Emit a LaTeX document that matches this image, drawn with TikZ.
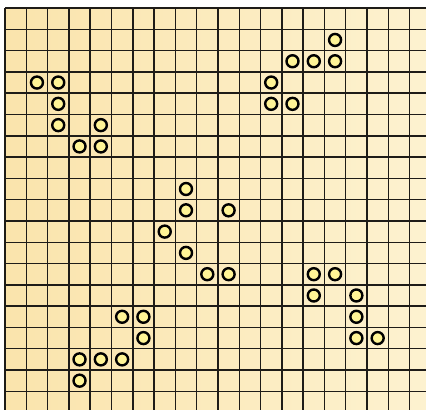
\documentclass[tikz,border=0pt]{standalone}
\usepackage{xcolor}
\usepackage{tikz}

\definecolor{paperleft}{RGB}{250,228,172}
\definecolor{paperright}{RGB}{253,242,208}
\definecolor{gridline}{RGB}{30,28,24}
\definecolor{livefill}{RGB}{255,244,150}

\begin{document}
\begin{tikzpicture}[
    x=21.3pt, y=-21.3pt,
    board/.style={
        left color=paperleft,
        right color=paperright,
        draw=none
    },
    gridrule/.style={
        draw=gridline,
        line width=1.5pt
    },
    livecell/.style={
        circle,
        draw=black,
        line width=2.4pt,
        fill=livefill,
        minimum size=12pt,
        inner sep=0pt
    }
]

% ------------------------------------------------------------
% Page and board
% ------------------------------------------------------------

\useasboundingbox (-0.235,-0.376) rectangle (19.77,18.87);

\fill[board] (0,0) rectangle (19.77,18.87);

\foreach \i in {0,...,19}
    \draw[gridrule] (\i,0) -- (\i,18.87);

\foreach \j in {0,...,18}
    \draw[gridrule] (0,\j) -- (19.77,\j);

% ------------------------------------------------------------
% Live cells (column/row)
% ------------------------------------------------------------

\foreach \c/\r [count=\k] in {
    1/3, 2/3, 2/4, 2/5, 4/5, 3/6, 4/6,
    15/1, 13/2, 14/2, 15/2, 12/3, 12/4, 13/4,
    8/8, 8/9, 10/9, 7/10, 8/11, 9/12, 10/12,
    5/14, 6/14, 6/15, 3/16, 4/16, 5/16, 3/17,
    14/12, 15/12, 14/13, 16/13, 16/14, 16/15, 17/15}
    \node[livecell] (live\k) at (\c+0.5,\r+0.5) {};

\end{tikzpicture}
\end{document}
